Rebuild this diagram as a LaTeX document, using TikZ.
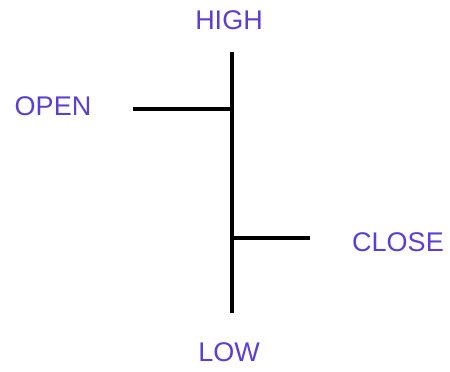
\documentclass[tikz,border=0pt]{standalone}
\usepackage{fontspec}
\setmainfont{Liberation Sans}
\definecolor{lbl}{RGB}{92,62,212}
\begin{document}
\begin{tikzpicture}[x=1pt,y=-1pt,
  lab/.style={text=lbl,font=\fontsize{27}{27}\selectfont,inner sep=0pt,anchor=center},
  bar/.style={line width=3.5pt,black}]
\useasboundingbox (0,0) rectangle (450,372);
\coordinate (top) at (232,52);
\coordinate (bot) at (232,313);
\coordinate (openL) at (133,109);
\coordinate (openR) at (232,109);
\coordinate (closeL) at (232,238);
\coordinate (closeR) at (310,238);
\draw[bar] (top) -- (bot);
\draw[bar] (openL) -- (openR);
\draw[bar] (closeL) -- (closeR);
\node[lab] (high) at (229,20) {HIGH};
\node[lab] (open) at (53,106) {OPEN};
\node[lab] (close) at (398,242) {CLOSE};
\node[lab] (low) at (229,352) {LOW};
\end{tikzpicture}
\end{document}
